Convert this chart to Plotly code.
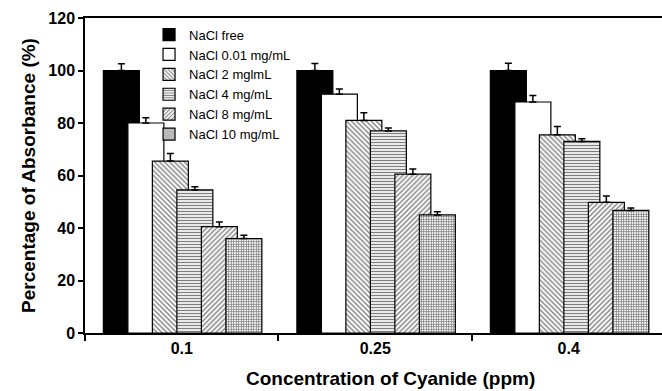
import plotly.graph_objects as go

categories = ["0.1", "0.25", "0.4"]
series_names = ["NaCl free", "NaCl 0.01 mg/mL", "NaCl 2 mglmL", "NaCl 4 mg/mL", "NaCl 8 mg/mL", "NaCl 10 mg/mL"]
values_free = [100, 100, 100]
values_001 = [80, 91, 88]
values_2 = [65.5, 81, 75.5]
values_4 = [54.5, 77, 73]
values_8 = [40.5, 60.5, 49.8]
values_10 = [36, 45, 46.7]
err_free = [2.6, 2.7, 2.8]
err_001 = [2.0, 2.0, 2.5]
err_2 = [2.9, 2.9, 3.2]
err_4 = [1.2, 1.1, 1.0]
err_8 = [1.8, 2.0, 2.4]
err_10 = [1.2, 1.2, 0.9]

values = [values_free, values_001, values_2, values_4, values_8, values_10]
errors = [err_free, err_001, err_2, err_4, err_8, err_10]
fills = ["black", "white", "white", "white", "white", "white"]
shapes = ["", "", "\\", "-", "/", "+"]
pat_sizes = [0, 0, 3.5, 3, 3.5, 2.5]
pat_solid = [0, 0, 0.4, 0.45, 0.4, 0.55]

FONT = "Arial, Liberation Sans, sans-serif"
bar_w = 0.186
step = 0.1266
start = -0.405

fig = go.Figure()
for i, name in enumerate(series_names):
    pat = dict(shape=shapes[i], fgcolor="black", bgcolor="white",
               size=pat_sizes[i], solidity=pat_solid[i]) if shapes[i] else None
    fig.add_trace(go.Bar(
        name=name, x=categories, y=values[i],
        offset=start + i * step, width=bar_w,
        marker=dict(color=fills[i], line=dict(color="black", width=1.2),
                    pattern=pat),
        error_y=dict(type="data", array=errors[i], symmetric=False,
                     arrayminus=[0, 0, 0], color="black", thickness=1.5, width=3.5),
    ))

fig.add_annotation(
    text="<b>Concentration of Cyanide (ppm)</b>", xref="paper", yref="paper",
    x=0.53, y=0, xanchor="center", yanchor="middle", yshift=-45, showarrow=False,
    font=dict(size=19, family=FONT, color="black"))

fig.update_layout(
    barmode="overlay",
    width=662, height=391,
    margin=dict(l=85, r=0, t=18, b=58),
    plot_bgcolor="white", paper_bgcolor="white",
    font=dict(family=FONT, color="black"),
    showlegend=True,
    legend=dict(x=0.111, y=0.995, xanchor="left", yanchor="top",
                font=dict(size=13, family=FONT), bgcolor="rgba(0,0,0,0)",
                tracegroupgap=0, itemwidth=30),
    xaxis=dict(type="category", range=[-0.5, 2.482], showline=True, linecolor="black",
               linewidth=1.5, mirror=True, ticks="outside", tickson="boundaries",
               ticklen=6, tickwidth=1.5, tickcolor="black", showgrid=False,
               tickfont=dict(size=16, family=FONT, weight="bold")),
    yaxis=dict(range=[0, 120], dtick=20, showline=True, linecolor="black", linewidth=1.5,
               ticks="outside", ticklen=5, tickwidth=1.5, tickcolor="black", showgrid=False,
               zeroline=False,
               tickfont=dict(size=16, family=FONT, weight="bold"),
               title=dict(text="<b>Percentage of Absorbance (%)</b>", font=dict(size=19, family=FONT),
                          standoff=8)),
)

fig.write_html("out.html")
